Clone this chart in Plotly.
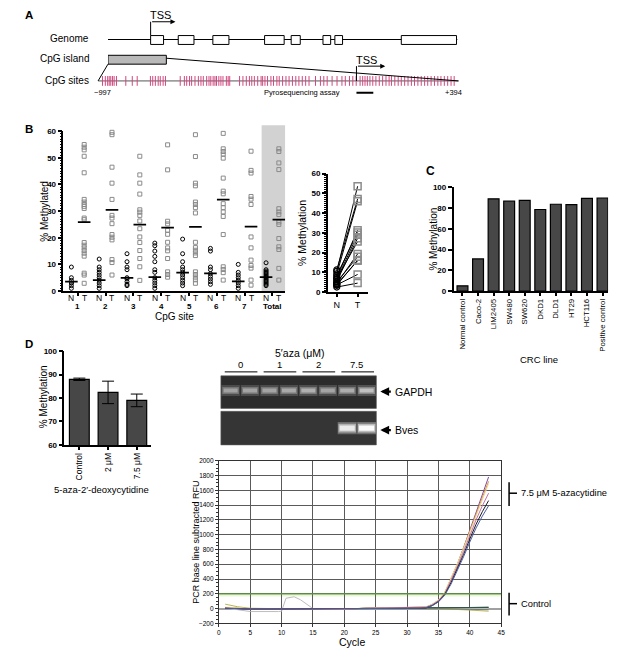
import plotly.graph_objects as go

W, H = 624, 657
def X(px): return px / W
def Y(py): return 1 - py / H

FONT = "Liberation Sans, Arial, Helvetica, sans-serif"

# ---------------- DATA ----------------
# Panel A: gene model (arbitrary genomic units, 0..100 along drawn locus)
exon_start = [12.2, 20.1, 30.0, 44.8, 52.4, 61.5, 64.9, 83.9]
exon_end = [15.9, 24.6, 34.6, 50.4, 55.0, 63.7, 67.1, 99.7]
cpg_island = [0.0, 16.7]
# CpG sites positions (bp relative to TSS)
cpg_sites = [-980, -969, -960, -954, -948, -941, -935, -926, -890, -865, -846,
             -795, -786, -776, -765, -757, -746, -737, -680, -664, -655, -644,
             -636, -623, -610, -600, -591, -578, -569, -562, -553, -546, -540,
             -531, -523, -515, -502, -495, -489, -451, -438, -425, -413, -404,
             -394, -381, -368, -362, -353, -343, -330, -320, -307, -298, -285,
             -272, -260, -247, -234, -222, -209, -196, -183, -158, -139, -126,
             -113, -94, -75, -56, -43, -27, -14, -1, 14, 24, 33, 42, 52, 63, 75,
             88, 101, 114, 126, 135, 148, 161, 173, 186, 199, 212, 224, 237,
             250, 263, 275, 288, 301, 314, 326, 339, 352, 365, 377]
region_bp = [-997, 394]
assay_bp = [0, 65]

# Panel B: % methylated per CpG site, normal (N) and tumour (T)
site_labels = ["1", "2", "3", "4", "5", "6", "7", "Total"]
N_vals = [
    [9, 5, 4, 3, 3, 2, 1],
    [12, 9, 8, 7, 6, 5, 4, 3, 2, 1],
    [14, 11, 9, 8, 5, 4.5, 3.5, 2.5, 2],
    [18, 17, 15, 13, 11, 8, 7, 5, 4, 3, 2, 1],
    [19.5, 14, 11, 9, 8, 7, 6, 5, 4, 3, 2],
    [16, 15, 9, 8, 6.5, 5.5, 4.5, 3.5, 2.5],
    [10, 7, 6, 5, 4, 3, 2, 1],
    [10.6, 8, 7.5, 7, 6.5, 6, 5.5, 5, 4.5, 4, 3.5, 3, 2.5, 2],
]
T_vals = [
    [55, 54, 53, 50.6, 44.4, 34.4, 33.4, 32.5, 31.8, 31, 27.4, 26.8, 18.2, 17.2, 16.2, 15.2, 14.2, 13.1, 6.7, 6, 2.9],
    [59.6, 58.7, 46.5, 40.5, 34.4, 28.4, 27.4, 25.3, 21.2, 20.2, 19.2, 11.8, 10.7, 6],
    [50.6, 43.6, 40.5, 36.4, 30.5, 29.6, 28.4, 26.3, 23.4, 20.3, 18.2, 15.2, 12.2, 9.1, 4],
    [54.9, 45.5, 26.2, 25.2, 22.8, 21.3, 18.3, 16.2, 15.1, 12.2, 7.2, 6.2, 5.2],
    [58.7, 50.5, 40.5, 39.5, 33.4, 32.5, 31.3, 29.3, 18.3, 16.3, 15.3, 14.3, 13.3, 7.2, 6.2, 5.2, 4.2, 2.9],
    [60.8, 59.2, 53.4, 52.4, 51.4, 49.9, 42.4, 37.5, 36.5, 32.8, 31.3, 29.7, 28, 21.2, 9.1, 8.1, 6.9, 4.1],
    [52.5, 45.3, 44.3, 35.5, 34.5, 32.5, 20.3, 16.2, 11.6, 9.6, 8.6, 4.1, 2.2],
    [53.4, 52.4, 48.1, 45.6, 30.9, 29.7, 28.7, 25.9, 25, 19.7, 16.6, 15.6, 8.5, 4.1],
]
N_median = [3.5, 4.1, 4.9, 5.2, 6.9, 6.6, 3.6, 5.2]
T_median = [25.9, 30.5, 24.9, 23.8, 24.1, 34.3, 24.2, 26.8]

# Panel B right: paired N / T
pair_N = [10.5, 11.2, 9.2, 7.4, 8.4, 6.4, 5.4, 6.8, 4.4, 5.0, 3.4, 4.0, 3.6, 2.5]
pair_T = [53.6, 47.2, 46.0, 31.3, 30.2, 29.0, 27.3, 25.6, 19.3, 17.9, 16.2, 15.8, 8.9, 4.5]

# Panel C: CRC lines
crc_lines = ["Normal control", "Caco-2", "LIM2405", "SW480", "SW620", "DKD1",
             "DLD1", "HT29", "HCT116", "Positive control"]
crc_meth = [5, 31, 89, 86.7, 87.6, 78.7, 83.8, 83.5, 89.5, 89.8]

# Panel D: 5-aza-2'-deoxycytidine
aza_doses = ["Control", "2 \u03bcM", "7.5 \u03bcM"]
aza_meth = [88, 82.4, 79]
aza_err = [0.5, 4.8, 2.7]

# Gel lanes (8 lanes, 2 per dose)
gel_doses = ["0", "1", "2", "7.5"]
lanes = [1, 2, 3, 4, 5, 6, 7, 8]
gapdh_int = [0.58, 0.60, 0.60, 0.62, 0.66, 0.60, 0.64, 0.74]
bves_int = [0, 0, 0, 0, 0, 0, 0.92, 1.0]

# qPCR curves
amp_cycles = [1, 5, 10, 15, 20, 25, 28, 30, 31, 32, 33, 34, 35, 36, 37, 38, 39, 40, 41, 42, 43]
amp_curves = {
    "#7d4a9c": [5, -5, -5, -5, -5, 8, 12, 10, 10, 12, 20, 55, 110, 210, 390, 590, 820, 1060, 1310, 1550, 1780],
    "#d9903f": [10, -5, -5, -5, -5, 8, 12, 10, 10, 12, 20, 55, 110, 215, 400, 600, 820, 1050, 1290, 1500, 1720],
    "#ecdc98": [20, -3, -5, -5, -5, 10, 14, 12, 12, 14, 22, 60, 115, 220, 400, 600, 810, 1030, 1260, 1470, 1690],
    "#c572a6": [5, -5, -5, -5, -5, 8, 10, 8, 8, 10, 18, 50, 105, 200, 370, 560, 770, 990, 1200, 1390, 1560],
    "#1a1a1a": [5, -5, -5, -5, -5, 5, 5, 5, 5, 5, 8, 40, 95, 190, 350, 530, 730, 940, 1140, 1310, 1460],
    "#4d5ea6": [5, -5, -5, -5, -5, 5, 5, 5, 5, 5, 10, 40, 90, 180, 330, 510, 700, 900, 1090, 1250, 1390],
}
ctrl_cycles = [1, 3, 5, 10, 15, 20, 25, 30, 35, 40, 43]
ctrl_curves = {
    "#2f5a3a": [15, 5, -5, -5, -5, -5, 8, 5, 10, 15, 20],
    "#b8b45a": [60, 25, 5, -5, -8, -8, 5, 0, 0, -20, -35],
    "#6f7f6f": [5, 0, -5, -5, -5, -5, 5, 0, 0, -10, -15],
    "#34504c": [10, 5, -5, -5, -5, -5, 10, 10, 10, 15, 15],
}
bump_cycles = [1, 3, 5, 9.5, 10, 10.7, 12, 13, 14, 15, 20, 25, 30, 35, 40, 43]
bump_vals = [10, -10, -40, -40, -35, 140, 160, 120, 60, 0, -5, 5, 0, 0, 0, 0]
threshold = 200

# ---------------- FIGURE ----------------
fig = go.Figure()
shapes = []
ann = []

def txt(text, px, py, size=10, xa="center", ya="middle", angle=0, bold=False):
    ann.append(dict(text=text, x=X(px), y=Y(py), xref="paper", yref="paper",
                    showarrow=False, xanchor=xa, yanchor=ya, textangle=angle,
                    font=dict(size=size, family=FONT, color="black",
                              weight="bold" if bold else "normal")))

def pline(x0, y0, x1, y1, w=1, color="black"):
    shapes.append(dict(type="line", xref="paper", yref="paper",
                       x0=X(x0), y0=Y(y0), x1=X(x1), y1=Y(y1),
                       line=dict(color=color, width=w)))

# ---- Panel A ----
GEN_Y, EX_Y0, EX_Y1, ISL_Y0, ISL_Y1, SITE_Y = 36, 32, 41, 52, 61, 78
fig.add_trace(go.Scatter(x=[0, 100], y=[GEN_Y, GEN_Y], mode="lines",
                         line=dict(color="black", width=1), xaxis="x", yaxis="y",
                         hoverinfo="skip", showlegend=False))
for s, e in zip(exon_start, exon_end):
    shapes.append(dict(type="rect", xref="x", yref="y", x0=s, x1=e, y0=EX_Y0, y1=EX_Y1,
                       fillcolor="white", line=dict(color="black", width=1)))
shapes.append(dict(type="rect", xref="x", yref="y", x0=cpg_island[0], x1=cpg_island[1],
                   y0=ISL_Y0, y1=ISL_Y1, fillcolor="#b9b9b9", line=dict(color="black", width=1)))
# TSS arrow (genome)
shapes.append(dict(type="line", xref="x", yref="y", x0=exon_start[0], x1=exon_start[0],
                   y0=EX_Y0, y1=18, line=dict(color="black", width=1)))
ann.append(dict(x=19.3, y=18, ax=exon_start[0], ay=18, xref="x", yref="y", axref="x", ayref="y",
                showarrow=True, arrowhead=2, arrowsize=1, arrowwidth=1, arrowcolor="black", text=""))
ann.append(dict(text="TSS", x=exon_start[0], y=11, xref="x", yref="y", showarrow=False,
                xanchor="left", xshift=-3, font=dict(size=11, family=FONT)))

# CpG sites line
fig.add_trace(go.Scatter(x=region_bp, y=[SITE_Y, SITE_Y], mode="lines",
                         line=dict(color="#555", width=1), xaxis="x2", yaxis="y",
                         hoverinfo="skip", showlegend=False))
fig.add_trace(go.Scatter(x=cpg_sites, y=[SITE_Y] * len(cpg_sites), mode="markers",
                         marker=dict(symbol="line-ns-open", size=7, color="#d2477f",
                                     line=dict(color="#d2477f", width=1)),
                         xaxis="x2", yaxis="y", hoverinfo="skip", showlegend=False))
shapes.append(dict(type="line", xref="x2", yref="y", x0=0, x1=0, y0=SITE_Y, y1=63,
                   line=dict(color="black", width=1)))
ann.append(dict(x=111, y=63, ax=0, ay=63, xref="x2", yref="y", axref="x2", ayref="y",
                showarrow=True, arrowhead=2, arrowsize=1, arrowwidth=1, arrowcolor="black", text=""))
ann.append(dict(text="TSS", x=0, y=57, xref="x2", yref="y", showarrow=False,
                xanchor="left", xshift=-2, font=dict(size=11, family=FONT)))
# assay bar
shapes.append(dict(type="line", xref="x2", yref="y", x0=assay_bp[0], x1=assay_bp[1],
                   y0=90, y1=90, line=dict(color="black", width=2)))
# zoom connectors
pline(107, 61, 97, 78)
pline(166, 55, 461, 78)

txt("A", 27, 11, 11.5, bold=True)
txt("Genome", 90, 35, 10, xa="right")
txt("CpG island", 90, 55, 10, xa="right")
txt("CpG sites", 90, 78, 10, xa="right")
txt("\u2212997", 101, 90, 7.5)
txt("Pyrosequencing assay", 343, 90, 7.5, xa="right")
txt("+394", 456, 90, 7.5)

# ---- Panel B (scatter) ----
off = 0.23
nx, ny, tx, ty = [], [], [], []
for i, (nv, tv) in enumerate(zip(N_vals, T_vals)):
    g = i + 1
    nx += [g - off] * len(nv); ny += nv
    tx += [g + off] * len(tv); ty += tv
shapes.append(dict(type="rect", xref="x3", yref="paper", x0=7.61, x1=8.46,
                   y0=Y(291), y1=Y(123), fillcolor="#d2d2d2", line=dict(width=0), layer="below"))
fig.add_trace(go.Scatter(x=tx, y=ty, mode="markers", xaxis="x3", yaxis="y3",
                         marker=dict(symbol="square-open", size=4, color="#8a8a8a",
                                     line=dict(width=1)), showlegend=False, cliponaxis=False))
fig.add_trace(go.Scatter(x=nx, y=ny, mode="markers", xaxis="x3", yaxis="y3",
                         marker=dict(symbol="circle-open", size=4, color="black",
                                     line=dict(width=1)), showlegend=False, cliponaxis=False))
gx = list(range(1, 9))
fig.add_trace(go.Scatter(x=[g - off for g in gx] + [g + off for g in gx],
                         y=N_median + T_median, mode="markers", xaxis="x3", yaxis="y3",
                         marker=dict(symbol="line-ew-open", size=9, color="black",
                                     line=dict(color="black", width=1.8)), showlegend=False))
for g, lab in zip(gx, site_labels):
    for dx, nt in ((-off, "N"), (off, "T")):
        ann.append(dict(text=nt, x=g + dx, y=Y(298), xref="x3", yref="paper", showarrow=False,
                        font=dict(size=8.5, family=FONT)))
    ann.append(dict(text=lab, x=g, y=Y(307), xref="x3", yref="paper", showarrow=False,
                    font=dict(size=8, family=FONT, weight="bold")))
txt("B", 27, 127, 11.5, bold=True)
txt("CpG site", 174, 317, 10)
txt("% Methylated", 43, 210, 10, angle=-90)

# ---- Panel B right (paired) ----
px_, py_ = [], []
for a, b in zip(pair_N, pair_T):
    px_ += [0, 1, None]; py_ += [a, b, None]
fig.add_trace(go.Scatter(x=px_, y=py_, mode="lines", xaxis="x4", yaxis="y4",
                         line=dict(color="black", width=1), showlegend=False))
fig.add_trace(go.Scatter(x=[1] * len(pair_T), y=pair_T, mode="markers", xaxis="x4", yaxis="y4",
                         marker=dict(symbol="square-open", size=7, color="#8c8c8c",
                                     line=dict(width=1.5)), showlegend=False, cliponaxis=False))
fig.add_trace(go.Scatter(x=[0] * len(pair_N), y=pair_N, mode="markers", xaxis="x4", yaxis="y4",
                         marker=dict(symbol="circle-open", size=6, color="black",
                                     line=dict(width=1.2)), showlegend=False, cliponaxis=False))
txt("% Methylation", 303, 232, 10.5, angle=-90)

# ---- Panel C ----
fig.add_trace(go.Bar(x=crc_lines, y=crc_meth, xaxis="x5", yaxis="y5", width=0.7,
                     marker=dict(color="#474747", line=dict(color="black", width=1.2)),
                     showlegend=False))
txt("C", 433, 169, 12, bold=True)
txt("% Methylation", 436, 238, 10, angle=-90)
txt("CRC line", 542, 360, 9.5)

# ---- Panel D bars ----
fig.add_trace(go.Bar(x=aza_doses, y=aza_meth, xaxis="x6", yaxis="y6", width=0.69,
                     marker=dict(color="#474747", line=dict(color="black", width=1.2)),
                     error_y=dict(type="data", array=aza_err, color="black", thickness=1, width=6),
                     showlegend=False))
txt("D", 27, 345, 11.5, bold=True)
txt("% Methylation", 42, 398, 10, angle=-90)
txt("5-aza-2\u2032-deoxycytidine", 100, 492, 9.5)

# ---- Gels ----
for xa_, ya_, col in (("x7", "y7", "#2c2c2c"), ("x8", "y8", "#353535")):
    shapes.append(dict(type="rect", xref=xa_ + " domain", yref=ya_ + " domain", x0=0, x1=1,
                       y0=0, y1=1, fillcolor=col, line=dict(color="#5a5a5a", width=0.6),
                       layer="below"))
def band_color(v, a):
    c = int(50 + 200 * v)
    return f"rgba({c},{c},{c},{a})"
fig.add_trace(go.Bar(x=lanes, y=[0.34] * 8, base=[0.38] * 8, xaxis="x7", yaxis="y7", width=0.95,
                     marker=dict(color=[band_color(v, 0.25) for v in gapdh_int], line=dict(width=0)),
                     showlegend=False))
fig.add_trace(go.Bar(x=lanes, y=[0.22] * 8, base=[0.44] * 8, xaxis="x7", yaxis="y7", width=0.86,
                     marker=dict(color=[band_color(v, 0.45) for v in gapdh_int], line=dict(width=0)),
                     showlegend=False))
fig.add_trace(go.Bar(x=lanes, y=[0.12] * 8, base=[0.49] * 8, xaxis="x7", yaxis="y7", width=0.72,
                     marker=dict(color=[band_color(v, 0.9) for v in gapdh_int], line=dict(width=0)),
                     showlegend=False))
fig.add_trace(go.Bar(x=lanes, y=[0.36] * 8, base=[0.32] * 8, xaxis="x8", yaxis="y8", width=0.98,
                     marker=dict(color=[band_color(v, 0.3 if v > 0 else 0) for v in bves_int],
                                 line=dict(width=0)), showlegend=False))
fig.add_trace(go.Bar(x=lanes, y=[0.26] * 8, base=[0.37] * 8, xaxis="x8", yaxis="y8", width=0.9,
                     marker=dict(color=[band_color(v, 0.55 if v > 0 else 0) for v in bves_int],
                                 line=dict(width=0)), showlegend=False))
fig.add_trace(go.Bar(x=lanes, y=[0.16] * 8, base=[0.42] * 8, xaxis="x8", yaxis="y8", width=0.78,
                     marker=dict(color=[band_color(v, 1 if v > 0 else 0) for v in bves_int],
                                 line=dict(width=0)), showlegend=False))
for k, d in enumerate(gel_doses):
    l0, l1 = lanes[2 * k], lanes[2 * k + 1]
    shapes.append(dict(type="line", xref="x7", yref="paper", x0=l0 - 0.3, x1=l1 + 0.38,
                       y0=Y(373), y1=Y(373), line=dict(color="black", width=1)))
    ann.append(dict(text=d, x=(l0 + l1) / 2, y=Y(366), xref="x7", yref="paper", showarrow=False,
                    font=dict(size=9.5, family=FONT)))
txt("5\u2032aza (\u03bcM)", 300, 354, 10.5)
for lab, yy in (("GAPDH", 393), ("Bves", 432)):
    ann.append(dict(x=X(382), y=Y(yy), xref="paper", yref="paper", ax=12, ay=0,
                    showarrow=True, arrowhead=2, arrowsize=0.8, arrowwidth=2.2,
                    arrowcolor="black", text=""))
    txt(lab, 395, yy, 10.5, xa="left")

# ---- qPCR ----
shapes.append(dict(type="rect", xref="x9", yref="y9", x0=0, x1=45, y0=165, y1=threshold,
                   fillcolor="rgba(220,238,180,0.55)", line=dict(width=0), layer="below"))
shapes.append(dict(type="line", xref="x9", yref="y9", x0=0, x1=45, y0=threshold, y1=threshold,
                   line=dict(color="#5c9a45", width=1.3)))
fig.add_trace(go.Scatter(x=bump_cycles, y=bump_vals, mode="lines", xaxis="x9", yaxis="y9",
                         line=dict(color="#bdbdbd", width=1), showlegend=False))
for col, vals in ctrl_curves.items():
    fig.add_trace(go.Scatter(x=ctrl_cycles, y=vals, mode="lines", xaxis="x9", yaxis="y9",
                             line=dict(color=col, width=1), showlegend=False))
for col, vals in amp_curves.items():
    fig.add_trace(go.Scatter(x=amp_cycles, y=vals, mode="lines", xaxis="x9", yaxis="y9",
                             line=dict(color=col, width=1), showlegend=False))
txt("PCR base line subtracted RFU", 195, 546, 9, angle=-90)
txt("Cycle", 353, 647, 10.5)
pline(512, 485, 512, 509, 1.5)
pline(512, 496, 520, 496, 1.5)
txt("7.5 \u03bcM 5-azacytidine", 522, 496, 9.3, xa="left")
pline(512, 597, 512, 620, 1.5)
pline(512, 608, 520, 608, 1.5)
txt("Control", 522, 608, 9.3, xa="left")

# ---------------- AXES ----------------
def gp_axis(**kw):
    base = dict(showline=True, linecolor="black", linewidth=1.5, ticks="outside",
                ticklen=4, tickwidth=1.5, tickcolor="black", showgrid=False, zeroline=False,
                tickfont=dict(size=8, family=FONT, weight="bold", color="black"))
    base.update(kw)
    return base

hidden = dict(visible=False, showgrid=False, zeroline=False)
layout_axes = dict(
    xaxis=dict(domain=[X(107), X(460)], range=[0, 100], anchor="y", **hidden),
    yaxis=dict(domain=[Y(95), Y(5)], range=[95, 5], anchor="x", **hidden),
    xaxis2=dict(domain=[X(97), X(461)], range=region_bp, anchor="y", **hidden),
    xaxis3=gp_axis(domain=[X(62), X(286)], range=[0.483, 8.46], anchor="y3",
                   tickvals=gx, showticklabels=False, ticklen=3),
    yaxis3=gp_axis(domain=[Y(291), Y(129)], range=[0, 60], anchor="x3", dtick=10,
                   minor=dict(dtick=1, ticks="outside", ticklen=2, tickwidth=0.8, tickcolor="black")),
    xaxis4=gp_axis(domain=[X(329), X(370)], range=[-0.43, 1.52], anchor="y4",
                   tickvals=[0, 1], ticktext=["N", "T"], ticklen=3,
                   tickfont=dict(size=9, family=FONT, color="black")),
    yaxis4=gp_axis(domain=[Y(292), Y(172)], range=[0, 60], anchor="x4", dtick=10,
                   minor=dict(dtick=1, ticks="outside", ticklen=2, tickwidth=0.8, tickcolor="black")),
    xaxis5=gp_axis(domain=[X(456), X(612)], range=[-0.57, 9.36], anchor="y5", type="category",
                   tickangle=-90, ticklen=3,
                   tickfont=dict(size=7.8, family=FONT, color="black")),
    yaxis5=gp_axis(domain=[Y(291), Y(186)], range=[0, 100], anchor="x5", dtick=20),
    xaxis6=gp_axis(domain=[X(63), X(150)], range=[-0.52, 2.48], anchor="y6", type="category",
                   tickangle=-90, ticklen=3,
                   tickfont=dict(size=8.5, family=FONT, color="black")),
    yaxis6=gp_axis(domain=[Y(447), Y(352)], range=[60, 100], anchor="x6", dtick=10),
    xaxis7=dict(domain=[X(221), X(378)], range=[0.5, 8.5], anchor="y7", **hidden),
    yaxis7=dict(domain=[Y(410), Y(377)], range=[0, 1], anchor="x7", **hidden),
    xaxis8=dict(domain=[X(221), X(378)], range=[0.5, 8.5], anchor="y8", **hidden),
    yaxis8=dict(domain=[Y(447), Y(413)], range=[0, 1], anchor="x8", **hidden),
    xaxis9=dict(domain=[X(219), X(504)], range=[0, 45], anchor="y9", dtick=5,
                showgrid=True, gridcolor="#5a5a5a", gridwidth=1, zeroline=False,
                showline=True, linecolor="#333", linewidth=1, mirror=True,
                ticks="outside", ticklen=3, tickcolor="#333",
                tickfont=dict(size=6.5, family=FONT, color="black")),
    yaxis9=dict(domain=[Y(628), Y(463)], range=[-200, 2000], anchor="x9", dtick=200,
                showgrid=True, gridcolor="#5a5a5a", gridwidth=1,
                zeroline=True, zerolinecolor="#a0a0a0", zerolinewidth=2,
                showline=True, linecolor="#333", linewidth=1, mirror=True,
                ticks="outside", ticklen=3, tickcolor="#333",
                minor=dict(dtick=50, ticks="outside", ticklen=2, tickcolor="#333"),
                tickfont=dict(size=6.5, family=FONT, color="black")),
)

fig.update_layout(
    width=W, height=H, margin=dict(l=0, r=0, t=0, b=0),
    paper_bgcolor="white", plot_bgcolor="rgba(0,0,0,0)",
    font=dict(family=FONT, color="black"),
    showlegend=False, barmode="overlay",
    shapes=shapes, annotations=ann, **layout_axes,
)

fig.write_html("out.html", config={"displayModeBar": False},
               post_script="document.body.style.margin='0px';")
